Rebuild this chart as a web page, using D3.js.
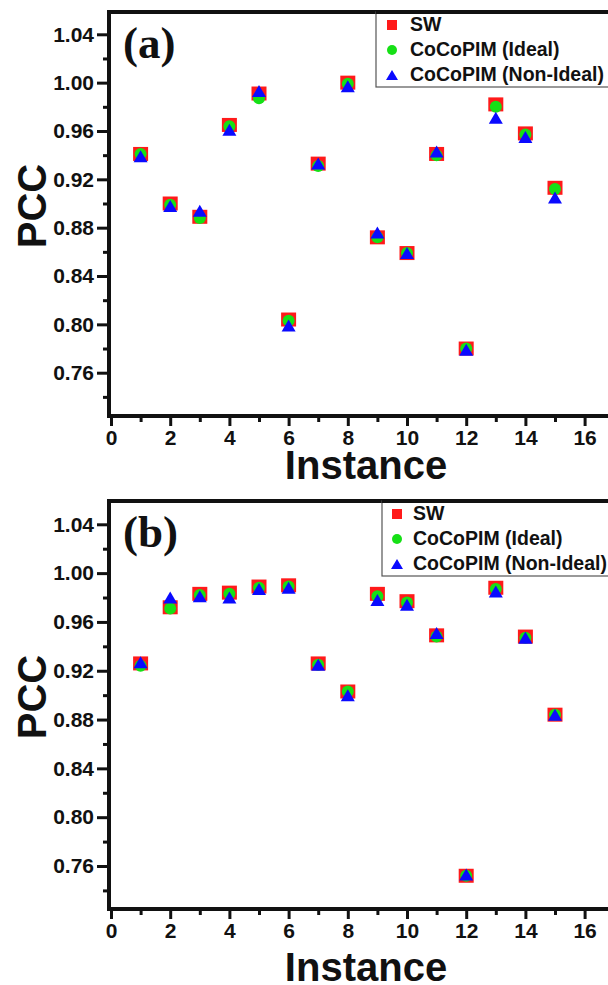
<!DOCTYPE html>
<html lang="en">
<head>
<meta charset="UTF-8">
<title>PCC per instance</title>
<style>
  body { margin: 0; background: #fff; }
  svg { display: block; }
  text { font-family: "Liberation Sans", Arial, sans-serif; font-weight: bold; fill: #111; }
</style>
</head>
<body>
<svg id="chart"></svg>
<script src="https://d3js.org/d3.v7.min.js"></script>
<script>
// data
const instances = [1, 2, 3, 4, 5, 6, 7, 8, 9, 10, 11, 12, 13, 14, 15];
const seriesNames = ["SW", "CoCoPIM (Ideal)", "CoCoPIM (Non-Ideal)"];

const swA       = [0.941, 0.900, 0.889, 0.965, 0.991, 0.804, 0.933, 1.000, 0.872, 0.859, 0.941, 0.780, 0.982, 0.958, 0.913];
const idealA    = [0.941, 0.899, 0.888, 0.964, 0.987, 0.803, 0.931, 0.999, 0.872, 0.859, 0.940, 0.780, 0.980, 0.957, 0.912];
const nonIdealA = [0.939, 0.898, 0.894, 0.961, 0.993, 0.799, 0.933, 0.997, 0.876, 0.859, 0.943, 0.779, 0.971, 0.955, 0.905];

const swB       = [0.926, 0.972, 0.983, 0.984, 0.989, 0.990, 0.926, 0.903, 0.983, 0.977, 0.949, 0.752, 0.988, 0.948, 0.884];
const idealB    = [0.924, 0.971, 0.982, 0.983, 0.988, 0.989, 0.925, 0.903, 0.981, 0.976, 0.948, 0.752, 0.987, 0.947, 0.884];
const nonIdealB = [0.927, 0.980, 0.981, 0.980, 0.987, 0.988, 0.925, 0.900, 0.978, 0.974, 0.951, 0.753, 0.985, 0.947, 0.884];

const yMajor = [0.76, 0.80, 0.84, 0.88, 0.92, 0.96, 1.00, 1.04];
const yMinor = [0.74, 0.78, 0.82, 0.86, 0.90, 0.94, 0.98, 1.02];
const xMajor = [0, 2, 4, 6, 8, 10, 12, 14, 16];
const xMinor = [1, 3, 5, 7, 9, 11, 13, 15];

const W = 608, H = 985;
const colors = ["#ff1a1a", "#16e016", "#0a0aff"];

const svg = d3.select("#chart").attr("width", W).attr("height", H);
svg.append("rect").attr("width", W).attr("height", H).attr("fill", "#fff");

// panel layout (pixels)
const panels = [
  { tag: "(a)", series: [swA, idealA, nonIdealA], top: 12, bottom: 416, y104: 34.3, y076: 372.7,
    legX: 376, legBottom: 87, legSym: 392, legText: 410, instY: 479, pccY: 206 },
  { tag: "(b)", series: [swB, idealB, nonIdealB], top: 501, bottom: 909, y104: 524.3, y076: 866,
    legX: 382, legBottom: 576, legSym: 397, legText: 413, instY: 981, pccY: 697 }
];

const axisX = 109;
const x = d3.scaleLinear().domain([0, 18]).range([111, 111 + 18 * 29.6]);

function triPath(cx, cy, w, h) {
  return `M${cx},${cy - h / 2}L${cx + w / 2},${cy + h / 2}L${cx - w / 2},${cy + h / 2}Z`;
}

panels.forEach(p => {
  const y = d3.scaleLinear().domain([0.76, 1.04]).range([p.y076, p.y104]);
  const g = svg.append("g");

  // minor ticks
  g.append("g").attr("transform", `translate(${axisX},0)`)
    .call(d3.axisLeft(y).tickValues(yMinor).tickSize(6).tickSizeOuter(0).tickFormat(""))
    .call(a => a.select(".domain").remove())
    .call(a => a.selectAll("line").attr("stroke", "#111").attr("stroke-width", 3));
  g.append("g").attr("transform", `translate(0,${p.bottom})`)
    .call(d3.axisBottom(x).tickValues(xMinor).tickSize(6).tickSizeOuter(0).tickFormat(""))
    .call(a => a.select(".domain").remove())
    .call(a => a.selectAll("line").attr("stroke", "#111").attr("stroke-width", 3));

  // major ticks + labels
  g.append("g").attr("transform", `translate(${axisX},0)`)
    .call(d3.axisLeft(y).tickValues(yMajor).tickSize(12).tickPadding(3).tickSizeOuter(0).tickFormat(d3.format(".2f")))
    .call(a => a.select(".domain").remove())
    .call(a => a.selectAll("line").attr("stroke", "#111").attr("stroke-width", 3))
    .call(a => a.selectAll("text").attr("font-size", 21).attr("fill", "#111")
      .style("font-family", "'Liberation Sans', Arial, sans-serif").style("font-weight", "bold"));
  g.append("g").attr("transform", `translate(0,${p.bottom})`)
    .call(d3.axisBottom(x).tickValues(xMajor).tickSize(10).tickPadding(4).tickSizeOuter(0).tickFormat(d3.format("d")))
    .call(a => a.select(".domain").remove())
    .call(a => a.selectAll("line").attr("stroke", "#111").attr("stroke-width", 3))
    .call(a => a.selectAll("text").attr("font-size", 21).attr("fill", "#111")
      .style("font-family", "'Liberation Sans', Arial, sans-serif").style("font-weight", "bold"));

  // frame lines: left, bottom, top
  g.append("line").attr("x1", axisX).attr("x2", axisX).attr("y1", p.top - 2).attr("y2", p.bottom + 2)
    .attr("stroke", "#111").attr("stroke-width", 4);
  g.append("line").attr("x1", axisX - 2).attr("x2", W + 10).attr("y1", p.bottom).attr("y2", p.bottom)
    .attr("stroke", "#111").attr("stroke-width", 4);
  g.append("line").attr("x1", axisX - 2).attr("x2", W + 10).attr("y1", p.top).attr("y2", p.top)
    .attr("stroke", "#111").attr("stroke-width", 4);

  // markers: squares, then circles, then triangles
  g.append("g").selectAll("rect").data(instances).join("rect")
    .attr("x", (d, i) => x(d) - 7.5).attr("y", (d, i) => y(p.series[0][i]) - 7)
    .attr("width", 15).attr("height", 14).attr("fill", colors[0]);
  g.append("g").selectAll("circle").data(instances).join("circle")
    .attr("cx", d => x(d)).attr("cy", (d, i) => y(p.series[1][i]))
    .attr("r", 6).attr("fill", colors[1]);
  g.append("g").selectAll("path").data(instances).join("path")
    .attr("d", (d, i) => triPath(x(d), y(p.series[2][i]), 14, 12))
    .attr("fill", colors[2]);

  // panel tag
  g.append("text").attr("x", 123).attr("y", p.top + 46).text(p.tag)
    .attr("font-size", 45).style("font-family", "'Liberation Serif', 'Times New Roman', serif");

  // legend
  const leg = g.append("g");
  leg.append("rect").attr("x", p.legX).attr("y", p.top).attr("width", W - p.legX + 10)
    .attr("height", p.legBottom - p.top).attr("fill", "#fff").attr("stroke", "#555").attr("stroke-width", 1.2);
  g.append("line").attr("x1", p.legX).attr("x2", W + 10).attr("y1", p.top).attr("y2", p.top)
    .attr("stroke", "#111").attr("stroke-width", 4);
  seriesNames.forEach((name, k) => {
    const base = p.legBottom - 56 + k * 25;
    const cy = base - 6;
    if (k === 0) leg.append("rect").attr("x", p.legSym - 5).attr("y", cy - 5).attr("width", 10).attr("height", 10).attr("fill", colors[0]);
    if (k === 1) leg.append("circle").attr("cx", p.legSym).attr("cy", cy).attr("r", 5).attr("fill", colors[1]);
    if (k === 2) leg.append("path").attr("d", triPath(p.legSym, cy, 12, 10)).attr("fill", colors[2]);
    leg.append("text").attr("x", p.legText).attr("y", base).attr("font-size", 19.5).text(name);
  });

  // axis titles
  g.append("text").attr("x", 366).attr("y", p.instY).attr("text-anchor", "middle")
    .attr("font-size", 40).text("Instance");
  g.append("text").attr("transform", `translate(46,${p.pccY}) rotate(-90)`).attr("text-anchor", "middle")
    .attr("font-size", 40).text("PCC");
});
</script>
</body>
</html>
